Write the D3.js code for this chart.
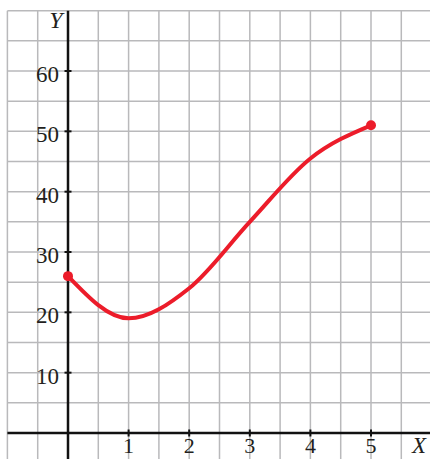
<!DOCTYPE html>
<html>
<head>
<meta charset="utf-8">
<script src="https://cdn.jsdelivr.net/npm/d3@7"></script>
<style>
  html, body { margin: 0; padding: 0; background: #fff; }
  svg { display: block; }
  text { font-family: "Liberation Serif", "DejaVu Serif", serif; fill: #231f20; }
</style>
</head>
<body>
<svg id="chart" width="430" height="459"></svg>
<script>
// Curve data
const xValues = [0, 1, 2, 3, 4, 5];
const yValues = [26, 19, 24, 35, 45.5, 51];

// Axis ticks
const xTicks = [1, 2, 3, 4, 5];
const yTicks = [10, 20, 30, 40, 50, 60];

const W = 430, H = 459;
const svg = d3.select("#chart");

const x = d3.scaleLinear().domain([0, 5]).range([68, 371]);
const y = d3.scaleLinear().domain([0, 60]).range([433, 71]);

const gridLeft = x(-1), gridTop = y(70);

// Grid every half unit in x and every 5 in y
const gridG = svg.append("g").attr("stroke", "#b9b9bb").attr("stroke-width", 1.5);
d3.range(-1, 6.01, 0.5).forEach(v => {
  gridG.append("line").attr("x1", x(v)).attr("x2", x(v))
    .attr("y1", gridTop).attr("y2", H);
});
d3.range(-5, 70.01, 5).forEach(v => {
  gridG.append("line").attr("x1", gridLeft).attr("x2", W)
    .attr("y1", y(v)).attr("y2", y(v));
});

// Axes
const axG = svg.append("g").attr("stroke", "#111").attr("stroke-width", 2.5);
axG.append("line").attr("x1", x(0)).attr("x2", x(0)).attr("y1", gridTop).attr("y2", H);
axG.append("line").attr("x1", gridLeft).attr("x2", W).attr("y1", y(0)).attr("y2", y(0));

// Tick marks crossing the axes
xTicks.forEach(t => {
  axG.append("line").attr("x1", x(t)).attr("x2", x(t))
    .attr("y1", y(0) - 3.5).attr("y2", y(0) + 3.5).attr("stroke-width", 2);
});
yTicks.forEach(t => {
  axG.append("line").attr("x1", x(0) - 3.5).attr("x2", x(0) + 3.5)
    .attr("y1", y(t)).attr("y2", y(t)).attr("stroke-width", 2);
});

// Tick labels
svg.append("g").selectAll("text").data(yTicks).join("text")
  .attr("x", x(0) - 9).attr("y", d => y(d) + 11)
  .attr("text-anchor", "end").attr("font-size", 23)
  .text(d => d);
svg.append("g").selectAll("text").data(xTicks).join("text")
  .attr("x", d => x(d)).attr("y", 453)
  .attr("text-anchor", "middle").attr("font-size", 22)
  .text(d => d);

// Axis names
svg.append("text").attr("x", 419).attr("y", 453)
  .attr("text-anchor", "middle").attr("font-size", 23).attr("font-style", "italic").text("X");
svg.append("text").attr("x", 56).attr("y", 28)
  .attr("text-anchor", "middle").attr("font-size", 24).attr("font-style", "italic").text("Y");

// Curve
const pts = xValues.map((v, i) => [v, yValues[i]]);
const line = d3.line().x(d => x(d[0])).y(d => y(d[1])).curve(d3.curveMonotoneX);
svg.append("path").datum(pts).attr("d", line)
  .attr("fill", "none").attr("stroke", "#ec1c2a").attr("stroke-width", 4)
  .attr("stroke-linecap", "round");

// Endpoint markers
svg.append("g").selectAll("circle").data([pts[0], pts[pts.length - 1]]).join("circle")
  .attr("cx", d => x(d[0])).attr("cy", d => y(d[1])).attr("r", 5)
  .attr("fill", "#ec1c2a");
</script>
</body>
</html>
